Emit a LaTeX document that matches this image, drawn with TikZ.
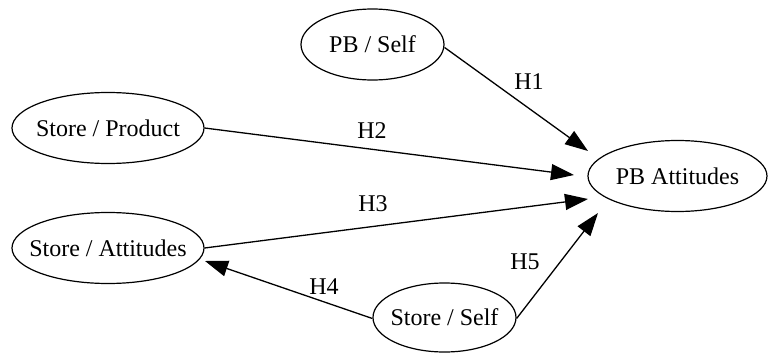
\documentclass[tikz,border=0pt]{standalone}
\usepackage{fontspec}
\setmainfont{Liberation Serif}
\usetikzlibrary{shapes.geometric,arrows.meta,calc}
\newcommand{\zb}[1]{\makebox[0pt]{#1}}
\begin{document}
\begin{tikzpicture}[x=0.5pt,y=-0.5pt,
  every node/.style={font=\fontsize{12}{14}\selectfont},
  ell/.style={ellipse,draw,line width=0.6pt,inner sep=0pt,minimum height=35.5pt},
  edge/.style={draw,line width=0.65pt,-{Triangle[length=11.5pt,width=8pt]}},
  lbl/.style={inner sep=0pt}]
\useasboundingbox (0,0) rectangle (768,354);
\node[ell,minimum width=71.5pt] (pbself) at (372.5,44.5) {\zb{PB / Self}};
\node[ell,minimum width=96pt] (sprod) at (108,128) {\zb{Store / Product}};
\node[ell,minimum width=89.5pt] (pba) at (677.5,176) {\zb{PB Attitudes}};
\node[ell,minimum width=96pt] (satt) at (108,248) {\zb{Store / Attitudes}};
\node[ell,minimum width=71.5pt,minimum height=34.5pt] (sself) at (444.5,317.5) {\zb{Store / Self}};
\draw[edge] ($(pbself.east)+(0,3)$) -- ($(pba)+(-89.5,-25)$);
\draw[edge] (sprod.east) -- ($(pba)+(-103.5,-1)$);
\draw[edge] (satt.east) -- ($(pba)+(-89.5,23)$);
\draw[edge] ($(sself.west)+(0,1)$) -- ($(satt)+(97,13)$);
\draw[edge] ($(sself.east)+(0,1)$) -- ($(pba)+(-79.5,37)$);
\node[lbl] (h1) at (529,82) {H1};
\node[lbl] (h2) at (372,131) {H2};
\node[lbl] (h3) at (373,204) {H3};
\node[lbl] (h4) at (324,287) {H4};
\node[lbl] (h5) at (525,262) {H5};
\end{tikzpicture}
\end{document}
